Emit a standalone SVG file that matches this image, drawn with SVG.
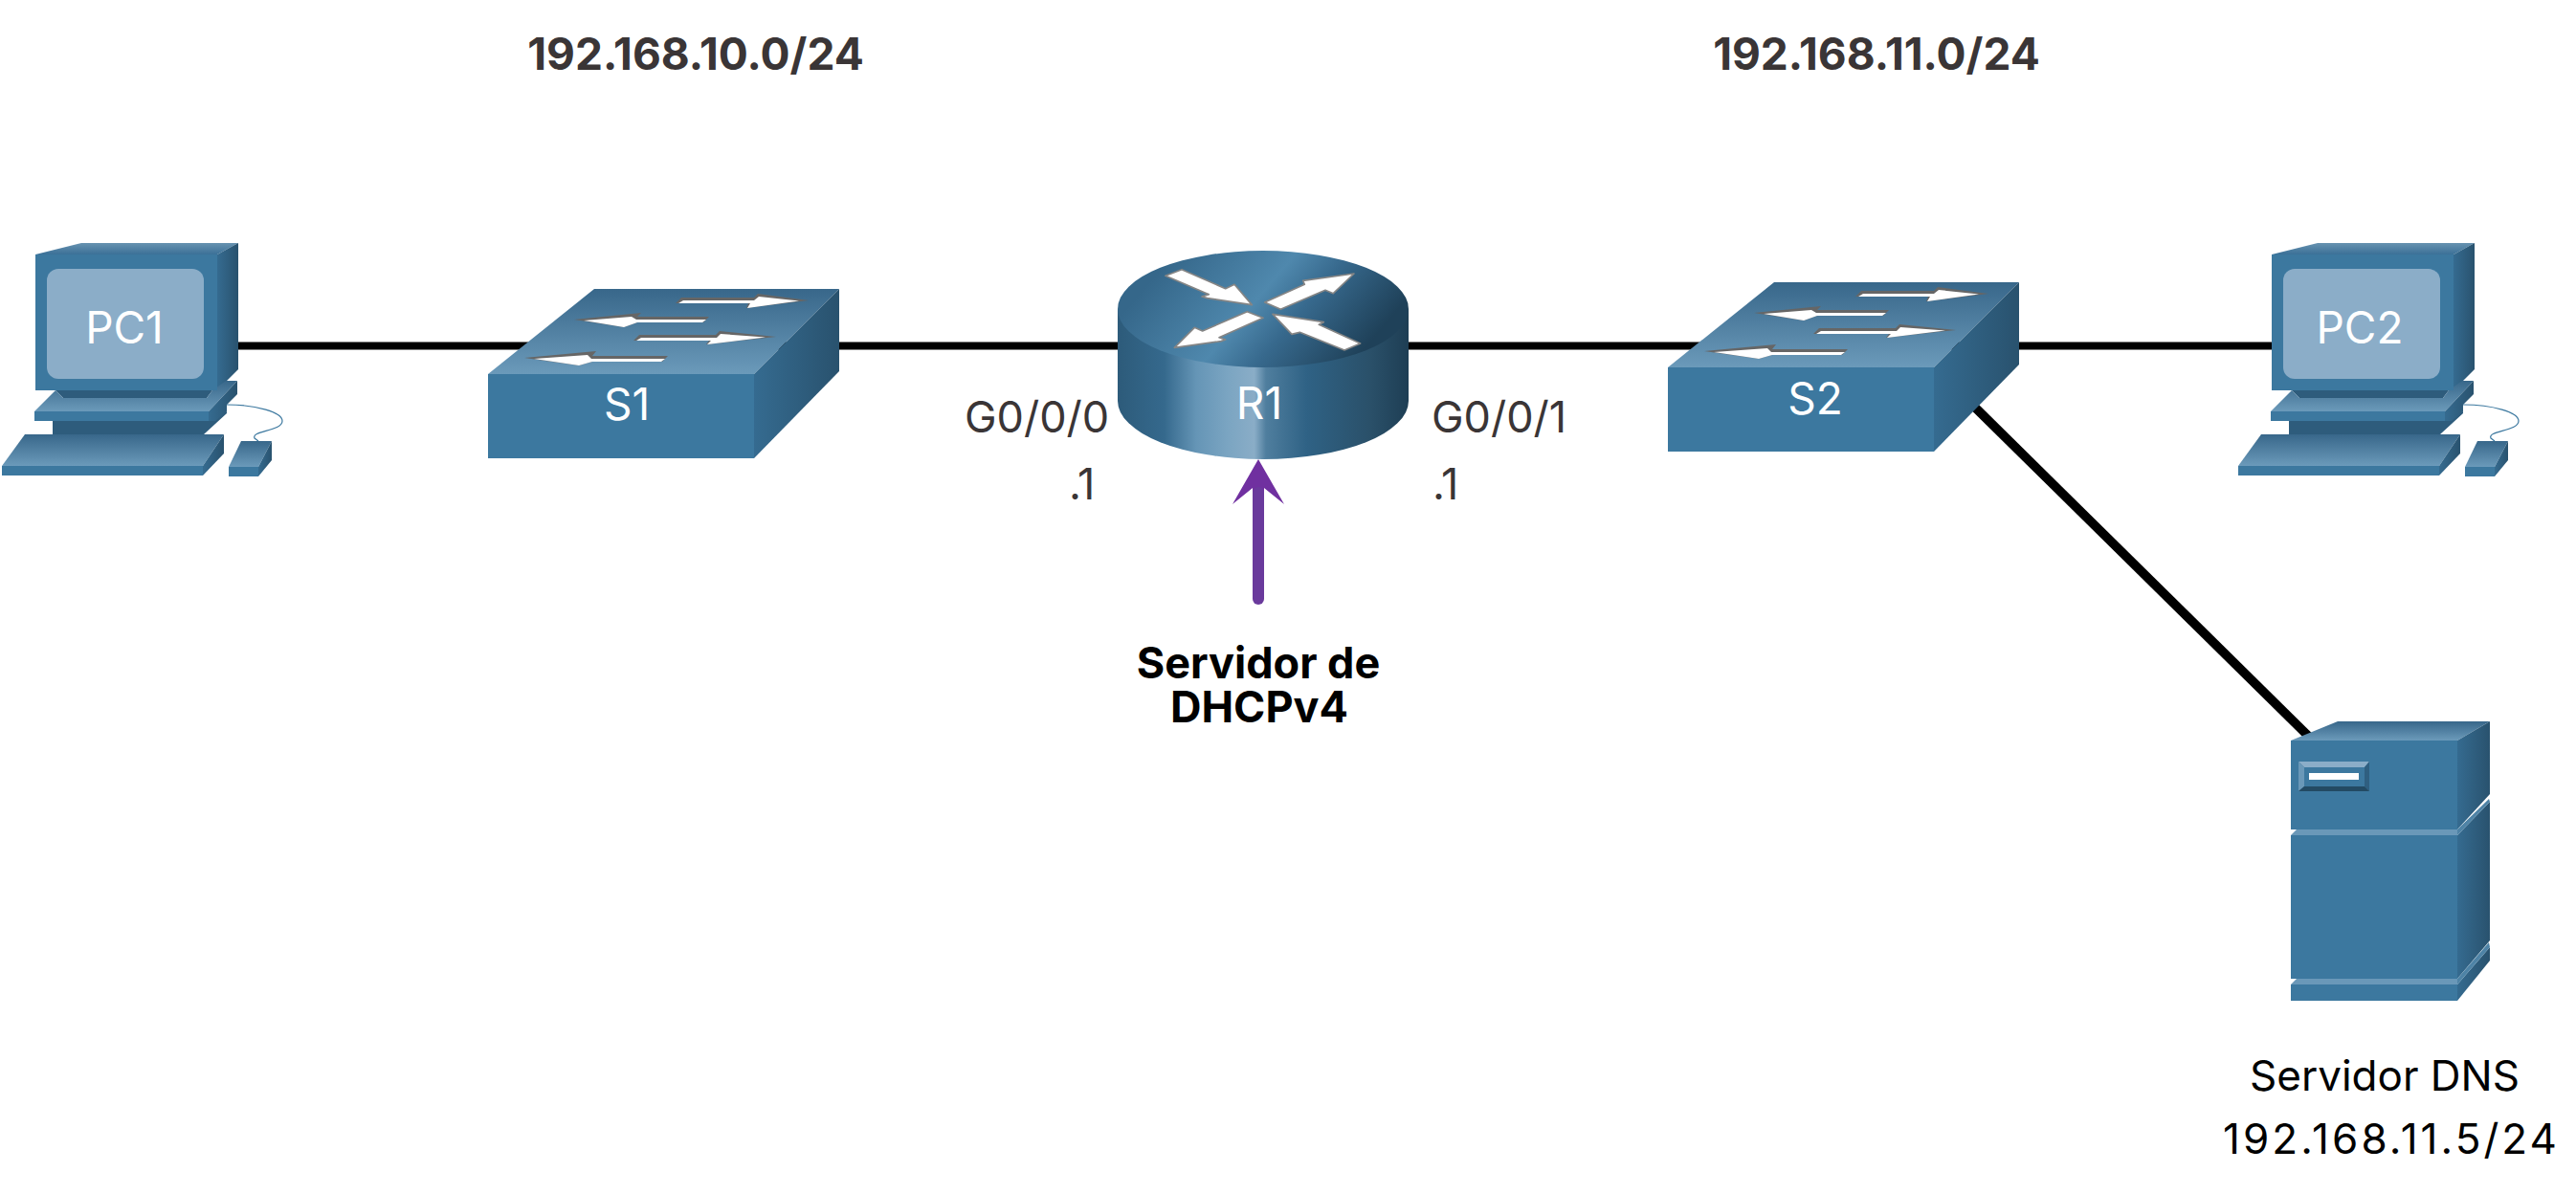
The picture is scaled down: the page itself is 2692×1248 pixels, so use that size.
<svg xmlns="http://www.w3.org/2000/svg" width="2692" height="1248" viewBox="0 0 2692 1248">
<style>
text{font-family:Inter,"Liberation Sans",sans-serif}
.lbl{fill:#fff;font-size:46px;text-anchor:middle}
.head{fill:#3a3536;font-size:46px;font-weight:700;text-anchor:middle}
.port{fill:#3a3536;font-size:45px}
.bold{fill:#000;font-size:45px;font-weight:700;text-anchor:middle}
.plain{fill:#000;font-size:44px;text-anchor:middle}
.link{stroke:#000;stroke-width:8;fill:none}
.front{fill:#3c789f}
.top{fill:url(#gTop)}
.side{fill:url(#gSide)}
.dark{fill:#2e5c7c}
.band{fill:#6a98b8}
.rband{fill:#4e83a6}
.wa{fill:#fff}
.ga{fill:#666}
.ra{fill:#fff;stroke:#858585;stroke-width:5;stroke-linejoin:round}
</style>
<defs>
<linearGradient id="gTop" x1="0" y1="0" x2="0" y2="1"><stop offset="0" stop-color="#38678a"/><stop offset="1" stop-color="#6b9aba"/></linearGradient>
<linearGradient id="gMon" x1="0" y1="0" x2="0" y2="1"><stop offset="0" stop-color="#6792b0"/><stop offset="1" stop-color="#3b7097"/></linearGradient>
<linearGradient id="gSide" x1="0" y1="0" x2="1" y2="0"><stop offset="0" stop-color="#356b90"/><stop offset="1" stop-color="#29526e"/></linearGradient>
<linearGradient id="gBody" gradientUnits="userSpaceOnUse" x1="1168" y1="0" x2="1472" y2="0">
<stop offset="0" stop-color="#2d5b7a"/><stop offset=".16" stop-color="#35698d"/><stop offset=".27" stop-color="#6595b6"/><stop offset=".38" stop-color="#7ba5c2"/><stop offset=".47" stop-color="#8aadc7"/><stop offset=".51" stop-color="#4f7e9e"/><stop offset=".65" stop-color="#2f6285"/><stop offset=".87" stop-color="#2a5069"/><stop offset="1" stop-color="#1e3e54"/>
</linearGradient>
<linearGradient id="gDisc" gradientUnits="userSpaceOnUse" x1="1235" y1="255" x2="1400" y2="395">
<stop offset="0" stop-color="#35678a"/><stop offset=".45" stop-color="#4f88ad"/><stop offset=".65" stop-color="#37698d"/><stop offset="1" stop-color="#1f4159"/>
</linearGradient>
<g id="pc">
<polygon points="85,254 249,254 227,266 37,266" fill="url(#gMon)"/>
<polygon class="side" points="227,266 249,254 249,386 227,408"/>
<polygon class="dark" points="58,408 222,408 216,416 66,416"/>
<polygon points="36,430 58,408 66,416 216,416 222,408 236,398 248,398 218,430" fill="url(#gTop)"/>
<polygon class="dark" points="55,440 206,440 237,430 237,432 213,454 55,454"/>
<rect class="front" x="36" y="430" width="182" height="10"/>
<polygon class="side" points="218,430 248,398 248,412 237,423 237,430 225,440 218,440"/>
<rect class="front" x="37" y="266" width="190" height="142"/>
<rect x="49" y="281" width="164" height="115" rx="12" fill="#8badc8"/>
<polygon class="top" points="26,454 234,454 212,487 2,487"/>
<rect class="front" x="2" y="487" width="210" height="10"/>
<polygon class="side" points="212,487 234,454 234,474 212,497"/>
<path d="M237,423 C268,423 295,431 295,440 C295,451 262,450 266,458 L270,461" fill="none" stroke="#3c789f" stroke-width="1.2"/>
<polygon class="top" points="252,461 284,461 270,488 239,488"/>
<rect class="front" x="239" y="488" width="31" height="10"/>
<polygon class="side" points="270,488 284,461 284,481 270,498"/>
</g>
<g id="sw">
<polygon class="top" points="510,391 621,302 877,302 788,391"/>
<polygon class="side" points="788,391 877,302 877,388 788,479"/>
<rect class="front" x="510" y="391" width="278" height="88"/>
<polygon class="ga" points="706,317 712,311 788,311 792,307 845,314 780,322 782,317"/>
<polygon class="wa" points="709,317 714,314 788,314 793,310 835,314.500 781,322 784,317"/>
<polygon class="ga" points="600,334 670,327 666,331 741,331 735,337 666,337 652,342"/>
<polygon class="wa" points="610,335 660,331 665,334 738,334 734,337 666,337 652,342"/>
<polygon class="ga" points="662,356 668,350 748,350 752,346 811,352 738,360 741,356"/>
<polygon class="wa" points="665,356 670,353 749,353 753,349 800,352.500 739,360 743,356"/>
<polygon class="ga" points="548,374 623,367 619,372 698,372 692,378 619,378 605,382"/>
<polygon class="wa" points="558,375 614,371 618,375 695,375 691,378 619,378 605,382"/>
</g>
</defs>
<g id="connectors">
<line class="link" x1="227" y1="361.500" x2="2374" y2="361.500"/>
<line class="link" style="stroke-width:9.500px" x1="2050" y1="412" x2="2415" y2="772"/>
<polygon points="1315,480 1342,527 1321,510 1321,626 1309,626 1309,510 1288,527" fill="#7030a0"/>
<line x1="1315" y1="515" x2="1315" y2="626" stroke="#6a3a9c" stroke-width="12" stroke-linecap="round"/>
</g>
<g id="PC1"><use href="#pc"/><text class="lbl" x="130" y="359">PC1</text></g>
<g id="S1"><use href="#sw"/><text class="lbl" x="655" y="439">S1</text></g>
<g id="R1">
<path d="M1168,323 V419 A152,61 0 0 0 1472,419 V323 Z" fill="url(#gBody)"/>
<ellipse cx="1320" cy="323" rx="152" ry="61" fill="url(#gDisc)"/>
<g transform="translate(1150,260) scale(.3333)">
<polygon class="ra" points="204,85 255,65 392,125 420,112 475,176 335,155 318,150 340,143"/>
<polygon class="ra" points="515,168 640,112 635,100 795,78 730,140 705,130 565,190"/>
<polygon class="ra" points="510,217 460,197 320,258 295,247 232,310 378,290 392,285 372,278"/>
<polygon class="ra" points="540,205 700,230 685,238 815,297 765,318 625,262 600,268"/>
</g>
<text class="lbl" x="1316" y="438">R1</text>
</g>
<g id="S2"><use href="#sw" transform="translate(1233,-7)"/><text class="lbl" x="1897" y="433">S2</text></g>
<g id="PC2"><use href="#pc" transform="translate(2337,0)"/><text class="lbl" x="2466" y="359">PC2</text></g>
<g id="DNS">
<polygon points="2394,774 2443,754 2602,754 2568,774" fill="url(#gTop)"/>
<polygon class="side" points="2568,774 2602,754 2602,830 2568,867"/>
<polygon class="side" points="2568,873 2602,838 2602,983 2568,1023"/>
<polygon class="side" points="2568,1029 2602,990 2602,1004 2568,1046"/>
<polygon class="rband" points="2568,867 2601,835 2602,838 2568,873"/>
<polygon class="rband" points="2568,1023 2601,985 2602,990 2568,1029"/>
<rect class="front" x="2394" y="774" width="174" height="93"/>
<polygon class="band" points="2394,873 2400,867 2568,867 2568,873"/>
<rect class="front" x="2394" y="873" width="174" height="150"/>
<polygon class="band" points="2394,1029 2400,1023 2568,1023 2568,1029"/>
<rect class="front" x="2394" y="1029" width="174" height="17"/>
<polygon points="2402,796 2476,796 2471,802 2408,802" fill="#8badc8"/>
<polygon points="2402,796 2408,802 2408,822 2402,827" fill="#6a98b8"/>
<polygon points="2476,796 2471,802 2471,822 2476,827" fill="#2f5f80"/>
<polygon points="2402,827 2408,822 2471,822 2476,827" fill="#234a63"/>
<rect x="2413" y="808" width="52" height="7" fill="#fff"/>
</g>
<g id="labels">
<text class="head" x="727" y="73">192.168.10.0/24</text>
<text class="head" x="1961" y="73">192.168.11.0/24</text>
<text class="port" x="1008" y="452">G0/0/0</text>
<text class="port" x="1117" y="522">.1</text>
<text class="port" x="1496" y="452">G0/0/1</text>
<text class="port" x="1497" y="522">.1</text>
<text class="bold" x="1315" y="709">Servidor de</text>
<text class="bold" x="1316" y="755">DHCPv4</text>
<text class="plain" x="2492" y="1140">Servidor DNS</text>
<text class="plain" x="2497.500" y="1206" textLength="349">192.168.11.5/24</text>
</g>
</svg>
